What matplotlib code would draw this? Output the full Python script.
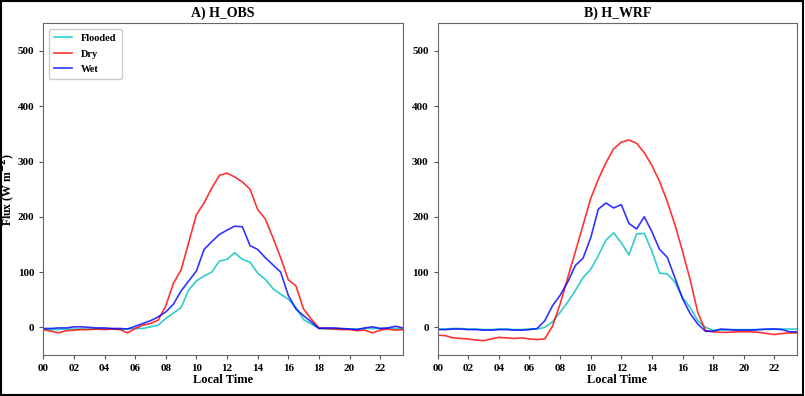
import numpy as np
import matplotlib
matplotlib.use('Agg')
from matplotlib import pyplot as plt
from matplotlib.patches import Rectangle

plt.rcParams['font.family'] = 'Liberation Serif'
plt.rcParams['font.weight'] = 'bold'

# half-hourly local time, 00:00 to 23:30
hours = np.arange(0, 24, 0.5)
xtick_labels = ['00', '02', '04', '06', '08', '10', '12', '14', '16', '18', '20', '22']

# A) H_OBS
obs_flooded = [-3, -4, -4, -3, -3, -3, -3, -3, -3, -3, -3, -3, -2, -2, 1, 4,
               16, 26, 36, 68, 84, 93, 100, 120, 123, 135, 123, 118, 98, 87, 70, 60,
               51, 36, 14, 6, -2, -3, -3, -3, -3, -3, -2, -2, -2, -2, -2, -3]
obs_dry = [-4, -7, -10, -6, -5, -4, -4, -3, -4, -3, -4, -10, -2, 4, 7, 13,
           39, 80, 104, 154, 204, 225, 252, 275, 279, 272, 263, 250, 213, 196, 162, 126,
           86, 75, 33, 15, -1, -2, -3, -4, -4, -6, -5, -10, -5, -3, -5, -4]
obs_wet = [-2, -2, -1, -1, 1, 1, 0, -1, -1, -2, -2, -3, 2, 7, 12, 19,
           28, 42, 66, 84, 102, 141, 155, 168, 176, 183, 182, 148, 141, 126, 113, 100,
           58, 33, 21, 10, -2, -1, -1, -2, -3, -4, -1, 1, -2, -1, 2, -1]

# B) H_WRF
wrf_flooded = [-3, -3, -2, -2, -3, -3, -4, -4, -3, -3, -4, -4, -3, -3, 0, 10,
               27, 46, 67, 90, 105, 130, 158, 171, 153, 131, 169, 170, 138, 98, 97, 82,
               54, 36, 12, 0, -5, -5, -4, -4, -4, -4, -4, -4, -3, -3, -3, -3]
wrf_dry = [-14, -15, -19, -20, -21, -23, -24, -21, -18, -19, -20, -19, -21, -22, -21, 2,
           42, 90, 137, 185, 233, 268, 298, 323, 335, 339, 333, 316, 293, 264, 228, 186,
           138, 86, 27, -6, -8, -9, -9, -8, -8, -8, -9, -11, -13, -11, -10, -10]
wrf_wet = [-4, -4, -3, -3, -4, -4, -5, -5, -4, -4, -5, -5, -4, -2, 12, 39,
           58, 82, 112, 125, 162, 214, 225, 216, 222, 188, 178, 200, 173, 141, 127, 90,
           52, 25, 6, -7, -7, -3, -4, -5, -5, -5, -4, -3, -3, -4, -8, -8]


def draw_panel(ax, flooded, dry, wet, title, show_legend=False):
    ax.plot(hours, flooded, color='c', alpha=0.8, lw=1.2, label='Flooded')
    ax.plot(hours, dry, color='red', alpha=0.8, lw=1.2, label='Dry')
    ax.plot(hours, wet, color='blue', alpha=0.8, lw=1.2, label='Wet')
    ax.set_xlim(0, 23.5)
    ax.set_ylim(-50, 550)
    ax.set_xticks(np.arange(0, 24, 2))
    ax.set_xticklabels(xtick_labels)
    ax.set_yticks([0, 100, 200, 300, 400, 500])
    ax.tick_params(labelsize=8, length=3, color='#555555')
    for s in ax.spines.values():
        s.set_color('#666666')
    ax.set_title(title, fontsize=10, fontweight='bold', pad=5)
    ax.set_xlabel('Local Time', fontsize=9, fontweight='bold', labelpad=1)
    if show_legend:
        ax.legend(loc='upper left', fontsize=7.5, handlelength=1.8, handletextpad=0.8,
                  framealpha=1, borderpad=0.5, labelspacing=0.6)


fig = plt.figure(figsize=(8.05, 3.96), dpi=100)
ax1 = fig.add_axes([0.0538, 0.1035, 0.447, 0.8376])
ax2 = fig.add_axes([0.5437, 0.1035, 0.4467, 0.8376])

draw_panel(ax1, obs_flooded, obs_dry, obs_wet, 'A) H_OBS', show_legend=True)
draw_panel(ax2, wrf_flooded, wrf_dry, wrf_wet, 'B) H_WRF')
ax1.set_ylabel('Flux (W m$^{-2}$)', fontsize=8.5, fontweight='bold')
ax1.yaxis.set_label_coords(-0.07, 0.5)

# black frame round the whole figure
fig.patches.append(Rectangle((0.001, 0.002), 0.997, 0.995, transform=fig.transFigure,
                             fill=False, edgecolor='black', linewidth=1.5))

fig.savefig('out.png', dpi=100)
